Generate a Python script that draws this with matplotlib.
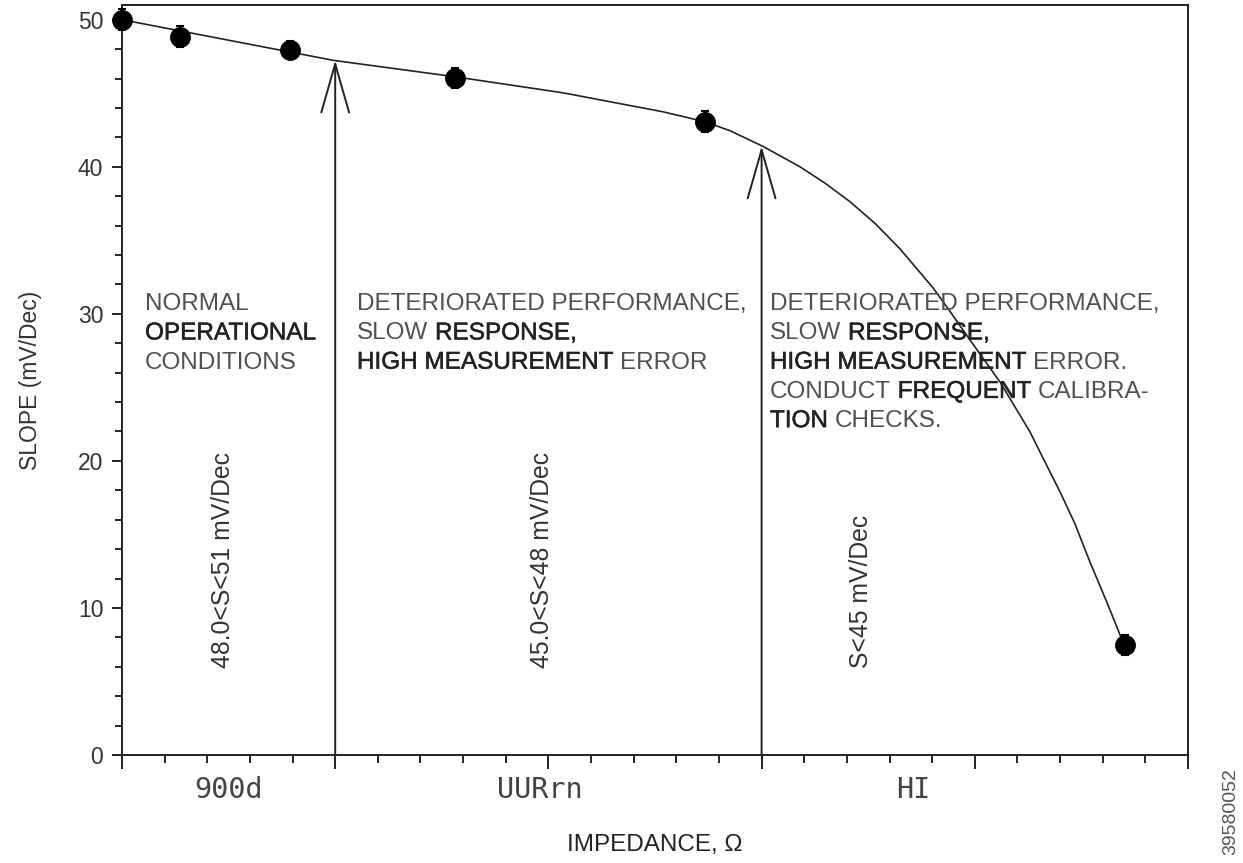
import matplotlib
matplotlib.use("Agg")
import matplotlib.pyplot as plt
import matplotlib.patheffects as pe
from matplotlib.ticker import MultipleLocator
from matplotlib.offsetbox import TextArea, HPacker, VPacker, AnchoredOffsetbox

plt.rcParams['font.family'] = ['Liberation Sans', 'DejaVu Sans']

# measured slope points (mV/Dec) vs impedance position
point_x = [0.0, 0.272, 0.788, 1.562, 2.735, 4.704]
point_y = [50.0, 48.84, 47.96, 46.05, 43.06, 7.48]
point_err = [0.7, 0.7, 0.6, 0.7, 0.7, 0.7]

# fitted curve
curve_x = [0.0, 0.99, 1.562, 2.068, 2.537, 2.735, 2.852, 3.006, 3.180, 3.297,
           3.415, 3.532, 3.649, 3.804, 3.884, 3.977, 4.118, 4.259, 4.329,
           4.400, 4.470, 4.540, 4.620, 4.704]
curve_y = [50.0, 47.24, 46.12, 45.03, 43.74, 43.06, 42.45, 41.39, 40.0, 38.89,
           37.62, 36.15, 34.42, 31.77, 30.16, 28.23, 25.37, 21.97, 19.93,
           17.89, 15.71, 13.13, 10.37, 7.35]

# zone boundaries (arrows) and where they meet the curve
bound_x = [1.0, 3.0]
bound_top = [47.24, 41.4]

zone_names = ["900d", "UURrn", "HI"]
zone_name_x = [0.5, 1.96, 3.71]

# zone descriptions: one list per line, (words, emphasised)
zone_text = [
    [[("NORMAL", False)],
     [("OPERATIONAL", True)],
     [("CONDITIONS", False)]],
    [[("DETERIORATED PERFORMANCE,", False)],
     [("SLOW", False), ("RESPONSE,", True)],
     [("HIGH MEASUREMENT", True), ("ERROR", False)]],
    [[("DETERIORATED PERFORMANCE,", False)],
     [("SLOW", False), ("RESPONSE,", True)],
     [("HIGH MEASUREMENT", True), ("ERROR.", False)],
     [("CONDUCT", False), ("FREQUENT", True), ("CALIBRA-", False)],
     [("TION", True), ("CHECKS.", False)]],
]
zone_text_x = [0.108, 1.102, 3.039]

zone_range = ["48.0<S<51 mV/Dec", "45.0<S<48 mV/Dec", "S<45 mV/Dec"]
zone_range_x = [0.474, 1.97, 3.466]

ink = '#222222'
soft = '#505050'
fs = 17.5

fig = plt.figure(figsize=(12.43, 8.63), dpi=100)
ax = fig.add_axes([122/1243, 1 - 755/863, (1188-122)/1243, (755-5)/863])
ax.set_xlim(0, 5)
ax.set_ylim(0, 51)

ax.plot(curve_x, curve_y, color=ink, lw=1.2, zorder=3)
ax.errorbar(point_x, point_y, yerr=point_err, fmt='o', color='black',
            ms=14, capsize=3, elinewidth=1.5, capthick=1.5, zorder=4, clip_on=False)

for bx, bt in zip(bound_x, bound_top):
    ax.annotate('', xy=(bx, bt), xytext=(bx, 0),
                arrowprops=dict(arrowstyle='->,head_length=3.5,head_width=1.0',
                                lw=1.4, color=ink, mutation_scale=10,
                                shrinkA=0, shrinkB=0))

bold_fx = [pe.withStroke(linewidth=0.35, foreground='#222222')]
for tx, lines in zip(zone_text_x, zone_text):
    rows = []
    for line in lines:
        parts = []
        for words, strong in line:
            props = dict(fontsize=fs, color='#222222' if strong else soft)
            if strong:
                props['path_effects'] = bold_fx
            parts.append(TextArea(words, textprops=props))
        rows.append(HPacker(children=parts, align='baseline', pad=0, sep=4.9))
    box = AnchoredOffsetbox(loc='upper left', child=VPacker(children=rows, align='left', pad=0, sep=5.2),
                            pad=0, borderpad=0, frameon=False,
                            bbox_to_anchor=(tx, 31.4), bbox_transform=ax.transData)
    ax.add_artist(box)

for rx, r in zip(zone_range_x, zone_range):
    ax.text(rx, 5.9, r, fontsize=17.8, color='#333333', rotation=90,
            rotation_mode='anchor', ha='left', va='center')

for nx, n in zip(zone_name_x, zone_names):
    ax.text(nx, -2.4, n, fontsize=20.5, family='DejaVu Sans Mono', color='#444444',
            ha='center', va='center', clip_on=False)

ax.xaxis.set_major_locator(MultipleLocator(1))
ax.xaxis.set_minor_locator(MultipleLocator(0.2))
ax.yaxis.set_major_locator(MultipleLocator(10))
ax.yaxis.set_minor_locator(MultipleLocator(2))
ax.set_xticklabels([])
ax.tick_params(axis='x', which='major', direction='out', length=10, width=1.4, color=ink)
ax.tick_params(axis='x', which='minor', direction='out', length=6, width=1.4, color=ink)
ax.tick_params(axis='y', which='major', direction='out', length=7.5, width=1.4,
               color=ink, labelsize=16.5, labelcolor='#333333', pad=6)
ax.tick_params(axis='y', which='minor', direction='out', length=5, width=1.4, color=ink)
for s in ax.spines.values():
    s.set_linewidth(1.4)
    s.set_color(ink)

ax.set_ylabel('SLOPE (mV/Dec)', fontsize=16.5, color='#333333')
ax.yaxis.set_label_coords(-80/1066, 0.5)
ax.set_xlabel('IMPEDANCE, Ω', fontsize=17.5, color='#222222', va='center')
ax.xaxis.set_label_coords(0.5, -(845 - 755) / 750)

fig.text(1231/1243, 1 - 812/863, '39580052', rotation=90, fontsize=14,
         color='#555555', ha='center', va='center')

fig.savefig('out.png', dpi=100)
